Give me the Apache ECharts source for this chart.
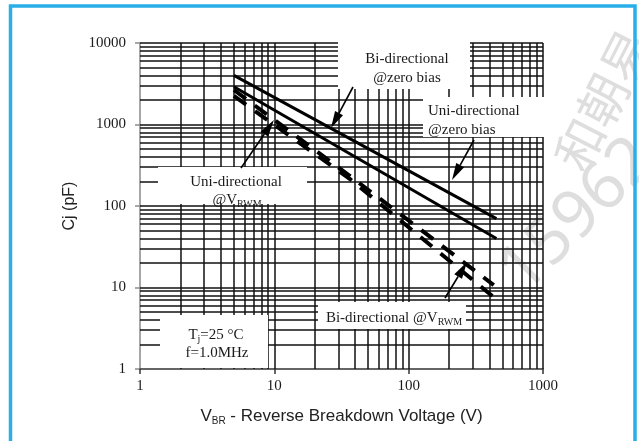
<!DOCTYPE html>
<html><head><meta charset="utf-8">
<script src="https://cdn.jsdelivr.net/npm/echarts@6/dist/echarts.min.js"></script>
<style>html,body{margin:0;padding:0;background:#fff}#c{width:639px;height:441px}</style>
</head><body><div id="c"></div>
<script>
// ---- data ----
const biZeroV = [5, 450];           const biZeroC = [4000, 70];          // top solid
const uniZeroV = [5, 450];          const uniZeroC = [2900, 40];         // lower solid
const uniRwmV = [5, 36.6, 430];     const uniRwmC = [2650, 233, 10.7];   // upper dashed
const biRwmV = [5, 36.6, 430];      const biRwmC = [2240, 214, 7.6];     // lower dashed
const xGridVals = [2,3,4,5,6,7,8,9,10,20,30,40,50,60,70,80,90,100,200,300,400,500,600,700,800,900,1000];
const yGridVals = [2,3,4,5,6,7,8,9,10,20,30,40,50,60,70,80,90,100,200,300,400,500,600,700,800,900,1000,2000,3000,4000,5000,6000,7000,8000,9000,10000];
const xTickLabels = ['1','10','100','1000'];
const yTickLabels = ['1','10','100','1000','10000'];

const pair = (xs, ys) => xs.map((x, i) => [x, ys[i]]);

const SERIF = '"Liberation Serif","Times New Roman",serif';
const SANS = '"Liberation Sans",Arial,sans-serif';
const INK = '#1a1a1a';

function arrow(tail, tip) {
  const dx = tip[0] - tail[0], dy = tip[1] - tail[1];
  const L = Math.hypot(dx, dy), ux = dx / L, uy = dy / L;
  const hl = 17, hw = 4.5;
  const bx = tip[0] - ux * hl, by = tip[1] - uy * hl;
  return [
    { type: 'line', z: 20, shape: { x1: tail[0], y1: tail[1], x2: bx, y2: by }, style: { stroke: '#000', lineWidth: 1.6 } },
    { type: 'polygon', z: 20, shape: { points: [tip, [bx - uy * hw, by + ux * hw], [bx + uy * hw, by - ux * hw]] }, style: { fill: '#000' } }
  ];
}
function box(x, y, w, h) {
  return { type: 'rect', z: 8, shape: { x, y, width: w, height: h }, style: { fill: '#fff' } };
}
const rich = {
  m: { fontFamily: SERIF, fontSize: 15, lineHeight: 18, fill: INK, color: INK },
  s: { fontFamily: SERIF, fontSize: 10, lineHeight: 9, verticalAlign: 'bottom', fill: INK, color: INK }
};
function txt(x, y, text, align) {
  return { type: 'text', z: 21, style: { x, y, text, rich, align: align || 'center', verticalAlign: 'middle', textAlign: align || 'center', textVerticalAlign: 'middle' } };
}

const graphic = [
  // watermark
  { type: 'text', z: 0, x: 603, y: 100, rotation: 1.1, style: { x: 0, y: 0, text: '和朝易', font: '50px "Noto Sans CJK SC"', fill: '#dedede', align: 'center', verticalAlign: 'middle' } },
  { type: 'text', z: 0, x: 578, y: 216, rotation: 0.78, style: { x: 0, y: 0, text: '15962', font: '66px "Noto Sans"', fill: '#dedede', align: 'center', verticalAlign: 'middle' } },
  // white label boxes
  box(338, 40, 132, 49),
  box(423, 97, 135, 40),
  box(158, 167, 149, 37),
  box(318, 302, 148, 27),
  box(160, 315, 108, 53),
  // texts
  txt(407, 59, '{m|Bi-directional}'),
  txt(407, 78, '{m|@zero bias}'),
  txt(428, 111, '{m|Uni-directional}', 'left'),
  txt(428, 130, '{m|@zero bias}', 'left'),
  txt(236, 182, '{m|Uni-directional}'),
  txt(237, 200, '{m|@V}{s|RWM}'),
  txt(394, 318, '{m|Bi-directional @V}{s|RWM}'),
  txt(216, 335, '{m|T}{s|j}{m|=25 °C}'),
  txt(217, 353, '{m|f=1.0MHz}'),
  ...arrow([353, 87], [331, 128]),
  ...arrow([474, 140], [452, 180]),
  ...arrow([241, 168], [274, 120]),
  ...arrow([445, 298], [467, 262]),
  // blue frame
  { type: 'rect', z: 30, shape: { x: 10.5, y: 6, width: 624.5, height: 460 }, style: { fill: null, stroke: '#2aaeea', lineWidth: 3.5 } }
];

const gridLine = { color: '#111', width: 1.5, type: 'solid' };
const chart = echarts.init(document.getElementById('c'), null, { renderer: 'canvas' });
chart.setOption({
  animation: false,
  backgroundColor: '#fff',
  grid: { left: 140, right: 96, top: 43, bottom: 72, containLabel: false },
  xAxis: {
    type: 'log', logBase: 10, min: 1, max: 1000,
    name: '{m|V}{s|BR}{m| - Reverse Breakdown Voltage (V)}',
    nameLocation: 'middle', nameGap: 37,
    nameTextStyle: { rich: {
      m: { fontFamily: SANS, fontSize: 17, color: '#222', lineHeight: 20 },
      s: { fontFamily: SANS, fontSize: 10, color: '#222', lineHeight: 8, verticalAlign: 'bottom' } } },
    axisLine: { lineStyle: { color: '#333', width: 1.5 } },
    axisTick: { show: true, inside: false, length: 5, lineStyle: { color: '#333', width: 1.5 } },
    axisLabel: { margin: 10, fontFamily: SERIF, fontSize: 15, color: INK,
      formatter: v => xTickLabels[Math.round(Math.log10(v))] },
    splitLine: { show: false }, minorTick: { show: false }
  },
  yAxis: {
    type: 'log', logBase: 10, min: 1, max: 10000,
    name: 'Cj (pF)', nameLocation: 'middle', nameGap: 62, nameRotate: 90,
    nameTextStyle: { fontFamily: SANS, fontSize: 16, color: '#222' },
    axisLine: { lineStyle: { color: '#8a8a8a', width: 1.5 } },
    axisTick: { show: true, inside: false, length: 5, lineStyle: { color: '#8a8a8a', width: 1.5 } },
    axisLabel: { margin: 14, fontFamily: SERIF, fontSize: 15, color: INK,
      formatter: v => yTickLabels[Math.round(Math.log10(v))] },
    splitLine: { show: false }, minorTick: { show: false }
  },
  graphic,
  series: [
    { type: 'line', name: 'grid', data: [], z: 1, silent: true,
      markLine: { z: 1, silent: true, symbol: ['none', 'none'], label: { show: false }, lineStyle: gridLine, emphasis: { disabled: true },
        data: [...xGridVals.map(v => ({ xAxis: v })), ...yGridVals.map(v => ({ yAxis: v }))] } },
    { type: 'line', name: 'Bi-directional @zero bias', data: pair(biZeroV, biZeroC), z: 15, symbol: 'none', lineStyle: { color: '#000', width: 3 } },
    { type: 'line', name: 'Uni-directional @zero bias', data: pair(uniZeroV, uniZeroC), z: 15, symbol: 'none', lineStyle: { color: '#000', width: 3 } },
    { type: 'line', name: 'Uni-directional @VRWM', data: pair(uniRwmV, uniRwmC), z: 15, symbol: 'none', lineStyle: { color: '#000', width: 4, type: [15, 11] } },
    { type: 'line', name: 'Bi-directional @VRWM', data: pair(biRwmV, biRwmC), z: 15, symbol: 'none', lineStyle: { color: '#000', width: 4, type: [15, 11] } }
  ]
});
</script></body></html>
